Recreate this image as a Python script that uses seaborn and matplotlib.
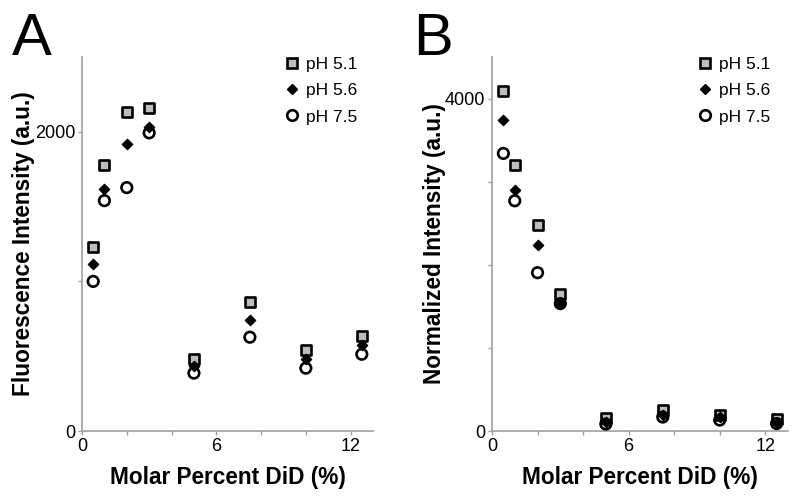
import numpy as np
import pandas as pd
import matplotlib
matplotlib.use("Agg")
import matplotlib.pyplot as plt
from matplotlib.lines import Line2D
import seaborn as sns

# ---- data ----
molar_pct = [0.5, 1, 2, 3, 5, 7.5, 10, 12.5]
series = ["pH 5.1", "pH 5.6", "pH 7.5"]

fluor_ph51 = [1227, 1780, 2133, 2160, 480, 860, 540, 633]
fluor_ph56 = [1113, 1620, 1920, 2033, 433, 740, 480, 573]
fluor_ph75 = [1000, 1540, 1627, 1993, 387, 627, 420, 513]

norm_ph51 = [4085, 3200, 2480, 1653, 155, 250, 190, 144]
norm_ph56 = [3740, 2900, 2240, 1545, 108, 190, 168, 96]
norm_ph75 = [3340, 2770, 1905, 1533, 84, 168, 132, 90]

x_ticklabels = ["0", "", "", "6", "", "", "12"]
a_yticklabels = ["0", "", "2000"]
b_yticklabels = ["0", "", "", "", "4000"]

sns.set_theme(style="white")
plt.rcParams["font.family"] = ["Liberation Sans", "DejaVu Sans"]
plt.rcParams["text.color"] = "black"
plt.rcParams["axes.labelcolor"] = "black"

fig = plt.figure(figsize=(8, 5), dpi=100)
axA = fig.add_axes([82/800, 1-431/500, (373-82)/800, (431-57)/500])
axB = fig.add_axes([492/800, 1-431/500, (788-492)/800, (431-57)/500])

styles = {
    "pH 5.1": dict(marker="s", s=7.0**2, facecolor="#bdbdbd", edgecolor="black", linewidth=1.9),
    "pH 5.6": dict(marker="D", s=5.2**2, facecolor="black", edgecolor="black", linewidth=1.0),
    "pH 7.5": dict(marker="o", s=7.6**2, facecolor="none", edgecolor="black", linewidth=1.9),
}

def draw(ax, vals, ymax, yticks, yticklabels, ylabel, label_x):
    for name, v in zip(series, vals):
        df = pd.DataFrame({"x": molar_pct, "y": v})
        st = styles[name]
        sns.scatterplot(data=df, x="x", y="y", ax=ax, marker=st["marker"], s=st["s"],
                        facecolor=st["facecolor"], edgecolor=st["edgecolor"],
                        linewidth=st["linewidth"], zorder=3, clip_on=False)
    ax.set_xlim(0, 13)
    ax.set_ylim(0, ymax)
    ax.set_xticks([0, 2, 4, 6, 8, 10, 12])
    ax.set_xticklabels(x_ticklabels)
    ax.set_yticks(yticks)
    ax.set_yticklabels(yticklabels)
    for s in ["top", "right"]:
        ax.spines[s].set_visible(False)
    for s in ["left", "bottom"]:
        ax.spines[s].set_color("#a0a0a0")
        ax.spines[s].set_linewidth(1.2)
    ax.tick_params(axis="both", which="both", length=3, width=1, color="#a0a0a0",
                   labelsize=13, labelcolor="black", pad=2, direction="out",
                   bottom=True, left=True)
    ax.set_xlabel("Molar Percent DiD (%)", fontsize=16.3, fontweight="bold", color="black")
    ax.set_ylabel(ylabel, fontsize=16.3, fontweight="bold", color="black")
    ax.xaxis.set_label_coords(0.5, -0.093)
    ax.yaxis.set_label_coords(label_x, 0.5)
    handles = [Line2D([], [], linestyle="none", marker=styles[n]["marker"],
                      markersize=np.sqrt(styles[n]["s"]),
                      markerfacecolor=styles[n]["facecolor"],
                      markeredgecolor=styles[n]["edgecolor"],
                      markeredgewidth=styles[n]["linewidth"]) for n in series]
    leg = ax.legend(handles, series, loc="upper left", bbox_to_anchor=(0.676, 1.019),
                    frameon=False, fontsize=12.5, handlelength=0.7, handletextpad=0.45,
                    labelspacing=0.64, borderaxespad=0)
    for t in leg.get_texts():
        t.set_color("black")
    ax.grid(False)

draw(axA, [fluor_ph51, fluor_ph56, fluor_ph75], 2500, [0, 1000, 2000], a_yticklabels,
     "Fluorescence Intensity (a.u.)", -0.161)
draw(axB, [norm_ph51, norm_ph56, norm_ph75], 4500, [0, 1000, 2000, 3000, 4000], b_yticklabels,
     "Normalized Intensity (a.u.)", -0.155)

fig.text(12/800, 1-55/500, "A", fontsize=43, va="baseline", ha="left", color="black")
fig.text(413/800, 1-55/500, "B", fontsize=43, va="baseline", ha="left", color="black")

fig.savefig("out.png", dpi=100)
